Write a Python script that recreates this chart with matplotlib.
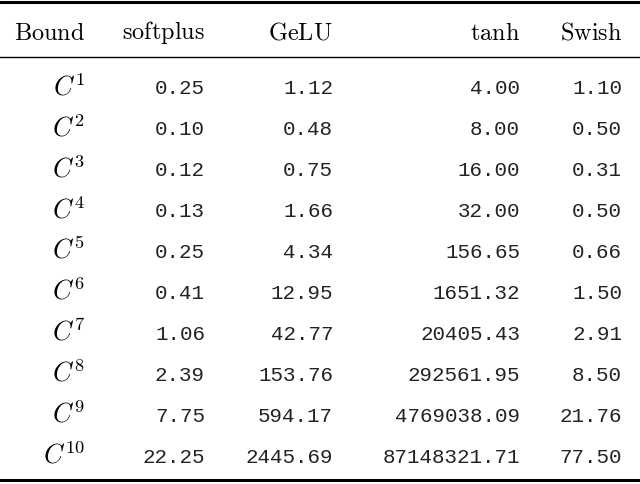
import matplotlib
matplotlib.use("Agg")
import matplotlib.pyplot as plt

plt.rcParams['mathtext.fontset'] = 'cm'

headers = ["Bound", "softplus", "GeLU", "tanh", "Swish"]
bounds = [r"$C^{%d}$" % i for i in range(1, 11)]
softplus = ["0.25", "0.10", "0.12", "0.13", "0.25", "0.41", "1.06", "2.39", "7.75", "22.25"]
gelu = ["1.12", "0.48", "0.75", "1.66", "4.34", "12.95", "42.77", "153.76", "594.17", "2445.69"]
tanh = ["4.00", "8.00", "16.00", "32.00", "156.65", "1651.32", "20405.43", "292561.95",
        "4769038.09", "87148321.71"]
swish = ["1.10", "0.50", "0.31", "0.50", "0.66", "1.50", "2.91", "8.50", "21.76", "77.50"]

fig = plt.figure(figsize=(6.4, 4.85), dpi=100)
ax = fig.add_axes([0, 0, 1, 1])
ax.set_xlim(0, 640)
ax.set_ylim(485, 0)
ax.axis('off')

# right edges of the columns
col_x = [85, 205, 333, 520, 622]

# header
ax.text(50, 33, r"$\mathrm{Bound}$", ha='center', va='center', fontsize=17.5)
for x, h in zip(col_x[1:], headers[1:]):
    ax.text(x, 33, r"$\mathrm{%s}$" % h, ha='right', va='center', fontsize=17.5)

# rules
ax.plot([0, 640], [3, 3], color='black', lw=2.2)
ax.plot([0, 640], [58, 58], color='black', lw=1.0)
ax.plot([0, 640], [481, 481], color='black', lw=2.2)

row_y0, dy = 88, 40.9
for i in range(10):
    y = row_y0 + i * dy
    ax.text(col_x[0], y, bounds[i], ha='right', va='center', fontsize=19)
    for x, col in zip(col_x[1:], [softplus, gelu, tanh, swish]):
        ax.text(x, y + 1, col[i], ha='right', va='center', fontsize=15,
                family='Liberation Mono', color='#222222')

fig.savefig("out.png", dpi=100)
